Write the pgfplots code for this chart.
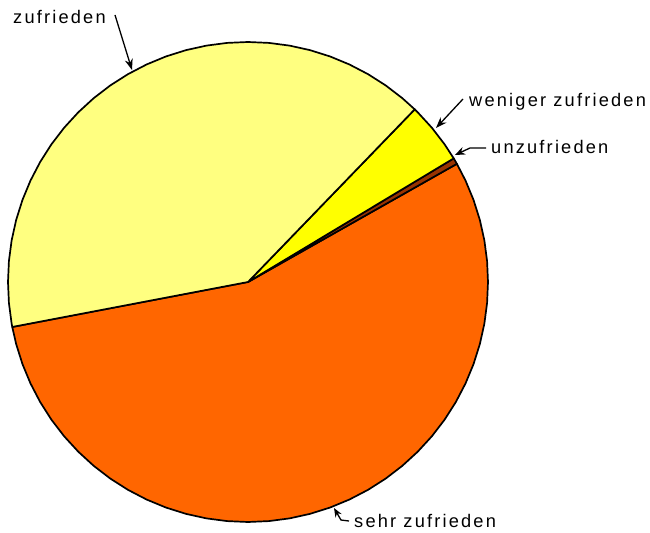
\documentclass[border=0pt]{standalone}
\usepackage{fontspec}
\setmainfont{Liberation Sans}[LetterSpace=12]
\usepackage{pgfplots}
\pgfplotsset{compat=1.18}
\usetikzlibrary{arrows.meta}
\usepackage{xcolor}
\definecolor{sehr}{HTML}{FF6600}
\definecolor{zuf}{HTML}{FFFF80}
\definecolor{wenig}{HTML}{FFFF00}
\definecolor{unz}{HTML}{993300}

% shares (percent): sehr zufrieden 55.2, zufrieden 40.2, weniger zufrieden 4.2, unzufrieden 0.4
% wedge boundaries in degrees: 29.5 | 31.0 | 46.0 | 190.8 | 389.5

\begin{document}
\begin{tikzpicture}
\begin{axis}[
    scale only axis,
    width=650bp, height=532bp,
    xmin=-248, xmax=402, ymin=-250, ymax=282,
    hide axis, clip=false,
    every axis plot/.append style={line width=1.7bp, line join=round},
    font=\fontsize{18.3}{20}\selectfont,
]
\addplot[draw=none] coordinates {(-248,-250)(402,282)};
% sehr zufrieden
\addplot[data cs=polar, fill=sehr, draw=black] coordinates {
    (0,0)(190.8,240)(195,240)(200,240)(205,240)(210,240)(215,240)(220,240)
    (225,240)(230,240)(235,240)(240,240)(245,240)(250,240)(255,240)(260,240)
    (265,240)(270,240)(275,240)(280,240)(285,240)(290,240)(295,240)(300,240)
    (305,240)(310,240)(315,240)(320,240)(325,240)(330,240)(335,240)(340,240)
    (345,240)(350,240)(355,240)(360,240)(365,240)(370,240)(375,240)(380,240)
    (385,240)(389.5,240)(0,0)
} -- cycle;
% unzufrieden
\addplot[data cs=polar, fill=unz, draw=black] coordinates {
    (0,0)(29.5,240)(31,240)(0,0)
} -- cycle;
% weniger zufrieden
\addplot[data cs=polar, fill=wenig, draw=black] coordinates {
    (0,0)(31,240)(35,240)(40,240)(45,240)(46,240)(0,0)
} -- cycle;
% zufrieden
\addplot[data cs=polar, fill=zuf, draw=black] coordinates {
    (0,0)(46,240)(50,240)(55,240)(60,240)(65,240)(70,240)(75,240)(80,240)
    (85,240)(90,240)(95,240)(100,240)(105,240)(110,240)(115,240)(120,240)
    (125,240)(130,240)(135,240)(140,240)(145,240)(150,240)(155,240)(160,240)
    (165,240)(170,240)(175,240)(180,240)(185,240)(190,240)(190.8,240)(0,0)
} -- cycle;

% leader lines
\addplot[black, line width=1.3bp, -{Stealth[length=11bp,width=8bp]}] coordinates {(-133,267)(-116,212)};
\addplot[black, line width=1.3bp, -{Stealth[length=11bp,width=8bp]}] coordinates {(215,183)(188,154)};
\addplot[black, line width=1.3bp, -{Stealth[length=10bp,width=8bp]}] coordinates {(238,134)(222,134)(207,127)};
\addplot[black, line width=1.3bp, -{Stealth[length=9bp,width=7bp]}] coordinates {(101,-239)(93,-238)(86,-226)};

% labels
\node[anchor=base west, inner sep=0pt] at (axis cs:-235,258) {zufrieden};
\node[anchor=base west, inner sep=0pt] at (axis cs:221,175) {weniger zufrieden};
\node[anchor=base west, inner sep=0pt] at (axis cs:243,128) {unzufrieden};
\node[anchor=base west, inner sep=0pt] at (axis cs:106,-245) {sehr zufrieden};
\end{axis}
\end{tikzpicture}
\end{document}
